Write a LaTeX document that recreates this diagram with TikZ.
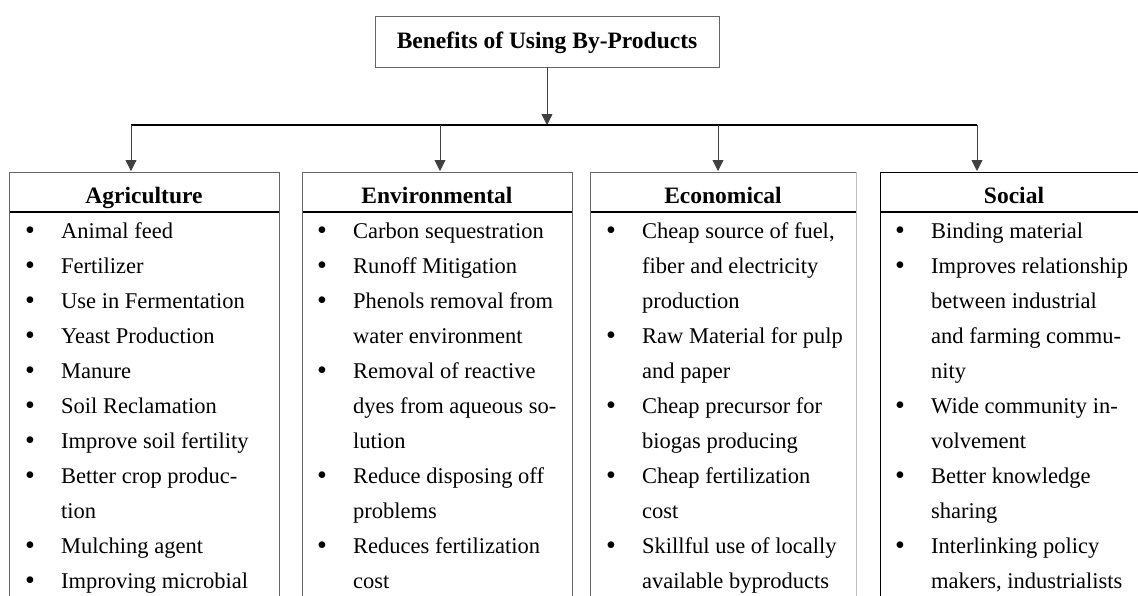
\documentclass[tikz,border=0pt]{standalone}
\usepackage{fontspec}
\setmainfont{Liberation Serif}
\usetikzlibrary{arrows.meta}
\newcommand\blt{\makebox[36pt][l]{\raisebox{-0.5pt}{\scalebox{1.25}{\textbullet}}}}
\newcommand\ind{\hspace*{36pt}}
\tikzset{
  boxline/.style={draw=black!60, line width=0.8pt},
  hdr/.style={draw=none, font={\fontsize{23.5}{28}\selectfont\bfseries}, inner sep=0pt, anchor=base},
  lst/.style={anchor=north west, inner sep=0pt, align=left, font={\fontsize{22.5}{35}\selectfont}},
  conn/.style={draw=black!75, line width=0.8pt, -{Triangle[length=11pt,width=11pt]}},
  bus/.style={draw=black, line width=1.3pt},
  sep/.style={draw=black, line width=1.8pt}
}
\begin{document}
\begin{tikzpicture}[x=1pt,y=-1pt]
\useasboundingbox (0,0) rectangle (1138,595);
\fill[white] (0,0) rectangle (1138,595);

% top box
\draw[boxline] (375,16) rectangle (719,67);
\node[hdr] (top) at (547,48) {Benefits of Using By-Products};
\coordinate (topS) at (547,67);
\coordinate (busM) at (547,125);
\coordinate (b1) at (131,125);
\coordinate (b2) at (440,125);
\coordinate (b3) at (718,125);
\coordinate (b4) at (977,125);
\coordinate (t1) at (131,171);
\coordinate (t2) at (440,171);
\coordinate (t3) at (718,171);
\coordinate (t4) at (977,171);

\draw[conn] (topS) -- (busM);
\draw[bus] (b1) -- (b4);
\draw[conn] (b1) -- (t1);
\draw[conn] (b2) -- (t2);
\draw[conn] (b3) -- (t3);
\draw[conn] (b4) -- (t4);

% category boxes
\draw[boxline] (9.5,640) -- (9.5,172) -- (279,172) -- (279,640);
\draw[sep] (9.5,212) -- (279,212);
\node[hdr] (agr) at (144,203.5) {Agriculture};

\draw[boxline] (302.5,640) -- (302.5,172) -- (572,172) -- (572,640);
\draw[sep] (302.5,212) -- (572,212);
\node[hdr] (env) at (437,203.5) {Environmental};

\draw[boxline] (590.5,640) -- (590.5,172) -- (856,172);
\draw[draw=black!25, line width=0.8pt] (856,172) -- (856,640);
\draw[sep] (590.5,212) -- (856,212);
\node[hdr] (eco) at (723,203.5) {Economical};

\draw[draw=black, line width=1.6pt] (880.5,640) -- (880.5,172.5) -- (1145,172.5);
\draw[sep] (880.5,212) -- (1145,212);
\node[hdr] (soc) at (1014,203.5) {Social};

% lists
\node[lst] (agrL) at (25,219) {\rule{0pt}{19.5pt}\blt Animal feed\\
\blt Fertilizer\\
\blt Use in Fermentation\\
\blt Yeast Production\\
\blt Manure\\
\blt Soil Reclamation\\
\blt Improve soil fertility\\
\blt Better crop produc-\\
\ind tion\\
\blt Mulching agent\\
\blt Improving microbial};

\node[lst] (envL) at (317,219) {\rule{0pt}{19.5pt}\blt Carbon sequestration\\
\blt Runoff Mitigation\\
\blt Phenols removal from\\
\ind water environment\\
\blt Removal of reactive\\
\ind dyes from aqueous so-\\
\ind lution\\
\blt Reduce disposing off\\
\ind problems\\
\blt Reduces fertilization\\
\ind cost};

\node[lst] (ecoL) at (606,219) {\rule{0pt}{19.5pt}\blt Cheap source of fuel,\\
\ind fiber and electricity\\
\ind production\\
\blt Raw Material for pulp\\
\ind and paper\\
\blt Cheap precursor for\\
\ind biogas producing\\
\blt Cheap fertilization\\
\ind cost\\
\blt Skillful use of locally\\
\ind available byproducts};

\node[lst] (socL) at (895,219) {\rule{0pt}{19.5pt}\blt Binding material\\
\blt Improves relationship\\
\ind between industrial\\
\ind and farming commu-\\
\ind nity\\
\blt Wide community in-\\
\ind volvement\\
\blt Better knowledge\\
\ind sharing\\
\blt Interlinking policy\\
\ind makers, industrialists};
\end{tikzpicture}
\end{document}
